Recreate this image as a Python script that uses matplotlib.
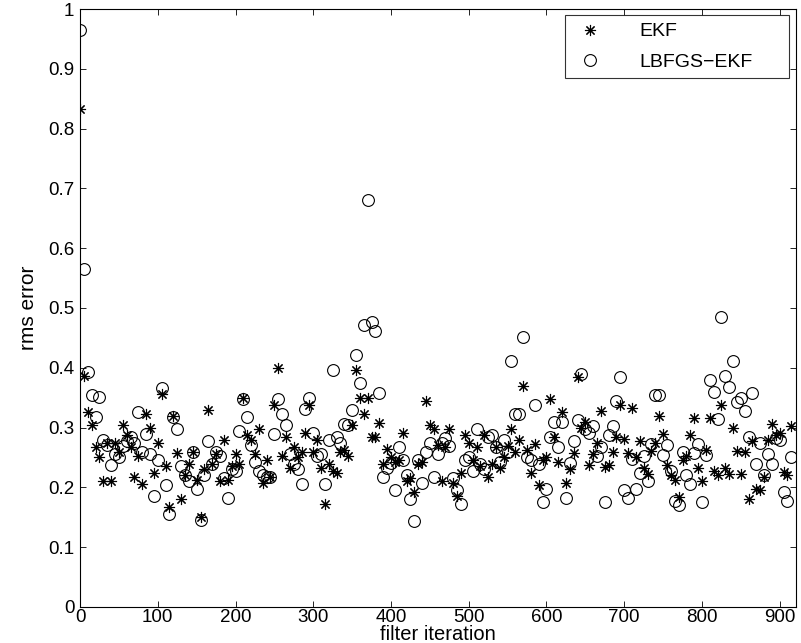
import numpy as np
import matplotlib
matplotlib.use("Agg")
import matplotlib.pyplot as plt

plt.rcParams['font.family'] = ['Liberation Sans', 'DejaVu Sans']

# filter iterations (one sample every 5 iterations)
iters = np.arange(0, 920, 5)

ekf_rms = [
    0.833, 0.386, 0.326, 0.305, 0.268, 0.250, 0.211, 0.274, 0.211, 0.275,
    0.260, 0.304, 0.288, 0.268, 0.217, 0.253, 0.205, 0.323, 0.300, 0.224,
    0.275, 0.357, 0.235, 0.168, 0.319, 0.257, 0.180, 0.221, 0.239, 0.259,
    0.212, 0.151, 0.230, 0.329, 0.239, 0.256, 0.210, 0.280, 0.213, 0.236,
    0.256, 0.239, 0.350, 0.288, 0.280, 0.256, 0.298, 0.207, 0.246, 0.218,
    0.338, 0.399, 0.253, 0.285, 0.233, 0.268, 0.250, 0.259, 0.291, 0.338,
    0.259, 0.280, 0.233, 0.172, 0.239, 0.227, 0.224, 0.259, 0.262, 0.253,
    0.304, 0.396, 0.350, 0.323, 0.350, 0.285, 0.285, 0.308, 0.239, 0.265,
    0.250, 0.242, 0.245, 0.291, 0.210, 0.215, 0.192, 0.239, 0.242, 0.344,
    0.304, 0.297, 0.271, 0.210, 0.268, 0.298, 0.207, 0.186, 0.224, 0.288,
    0.274, 0.245, 0.268, 0.236, 0.287, 0.218, 0.239, 0.268, 0.233, 0.250,
    0.270, 0.297, 0.259, 0.280, 0.370, 0.262, 0.224, 0.273, 0.204, 0.245,
    0.250, 0.347, 0.285, 0.242, 0.326, 0.207, 0.230, 0.257, 0.385, 0.300,
    0.309, 0.238, 0.256, 0.274, 0.328, 0.234, 0.238, 0.259, 0.284, 0.337,
    0.281, 0.257, 0.332, 0.250, 0.277, 0.233, 0.222, 0.261, 0.275, 0.320,
    0.290, 0.238, 0.221, 0.213, 0.184, 0.245, 0.253, 0.287, 0.316, 0.233,
    0.211, 0.262, 0.316, 0.227, 0.221, 0.338, 0.233, 0.222, 0.300, 0.261,
    0.222, 0.259, 0.180, 0.277, 0.198, 0.195, 0.218, 0.280, 0.306, 0.287,
    0.291, 0.226, 0.221, 0.302,
]

lbfgs_rms = [
    0.965, 0.565, 0.393, 0.354, 0.317, 0.351, 0.280, 0.271, 0.238, 0.256,
    0.250, 0.270, 0.277, 0.285, 0.274, 0.326, 0.260, 0.290, 0.256, 0.186,
    0.245, 0.367, 0.204, 0.156, 0.317, 0.298, 0.236, 0.221, 0.210, 0.259,
    0.198, 0.145, 0.221, 0.277, 0.239, 0.259, 0.253, 0.215, 0.183, 0.230,
    0.227, 0.294, 0.347, 0.317, 0.271, 0.242, 0.227, 0.221, 0.218, 0.217,
    0.290, 0.348, 0.322, 0.304, 0.256, 0.239, 0.230, 0.205, 0.331, 0.350,
    0.291, 0.253, 0.256, 0.205, 0.280, 0.396, 0.285, 0.274, 0.306, 0.304,
    0.329, 0.421, 0.374, 0.472, 0.680, 0.477, 0.462, 0.358, 0.217, 0.233,
    0.240, 0.195, 0.268, 0.245, 0.221, 0.180, 0.143, 0.245, 0.207, 0.260,
    0.274, 0.218, 0.256, 0.274, 0.283, 0.269, 0.215, 0.195, 0.172, 0.245,
    0.250, 0.227, 0.297, 0.239, 0.230, 0.285, 0.288, 0.268, 0.242, 0.280,
    0.260, 0.411, 0.323, 0.323, 0.452, 0.250, 0.245, 0.338, 0.239, 0.175,
    0.198, 0.285, 0.309, 0.268, 0.309, 0.183, 0.240, 0.278, 0.313, 0.389,
    0.297, 0.291, 0.302, 0.252, 0.268, 0.176, 0.287, 0.303, 0.345, 0.385,
    0.195, 0.183, 0.248, 0.197, 0.224, 0.253, 0.210, 0.273, 0.355, 0.355,
    0.255, 0.271, 0.228, 0.178, 0.170, 0.259, 0.221, 0.205, 0.257, 0.273,
    0.175, 0.255, 0.379, 0.360, 0.315, 0.485, 0.386, 0.368, 0.411, 0.343,
    0.350, 0.327, 0.284, 0.358, 0.239, 0.274, 0.221, 0.256, 0.239, 0.282,
    0.280, 0.193, 0.178, 0.250,
]

x_ticks = [0, 100, 200, 300, 400, 500, 600, 700, 800, 900]
y_ticks = [0, 0.1, 0.2, 0.3, 0.4, 0.5, 0.6, 0.7, 0.8, 0.9, 1]
y_ticklabels = ['0', '0.1', '0.2', '0.3', '0.4', '0.5', '0.6', '0.7', '0.8', '0.9', '1']

fig = plt.figure(figsize=(8.01, 6.43), dpi=100)
ax = fig.add_axes([0.0999, 0.056, 0.8939, 0.930])

ax.plot(iters, ekf_rms, linestyle='none', marker=(8, 2, 0), markersize=8,
        markeredgewidth=0.8, color='k', label='EKF')
ax.plot(iters, lbfgs_rms, linestyle='none', marker='o', markersize=8.5,
        markeredgewidth=0.8, markerfacecolor='none', markeredgecolor='k',
        label='LBFGS\u2212EKF')

ax.set_xlim(0, 921)
ax.set_ylim(0, 1)
ax.set_xticks(x_ticks)
ax.set_yticks(y_ticks)
ax.set_yticklabels(y_ticklabels)
ax.tick_params(direction='in', length=4, width=0.6, labelsize=13.5,
               top=True, right=True, pad=4)
ax.tick_params(axis='x', pad=1.5)
for s in ax.spines.values():
    s.set_linewidth(0.8)

ax.set_xlabel('filter iteration', fontsize=14.5, labelpad=-1)
ax.set_ylabel('rms error', fontsize=15, labelpad=7)

leg = ax.legend(loc='upper left', bbox_to_anchor=(0.677, 0.881, 0.313, 0.109),
                mode='expand', borderaxespad=0, fontsize=14, frameon=True,
                fancybox=False, edgecolor='k', handlelength=1.75,
                handletextpad=1.7, borderpad=0.4, labelspacing=0.65)
leg.get_frame().set_linewidth(0.8)

fig.savefig('out.png', dpi=100)
